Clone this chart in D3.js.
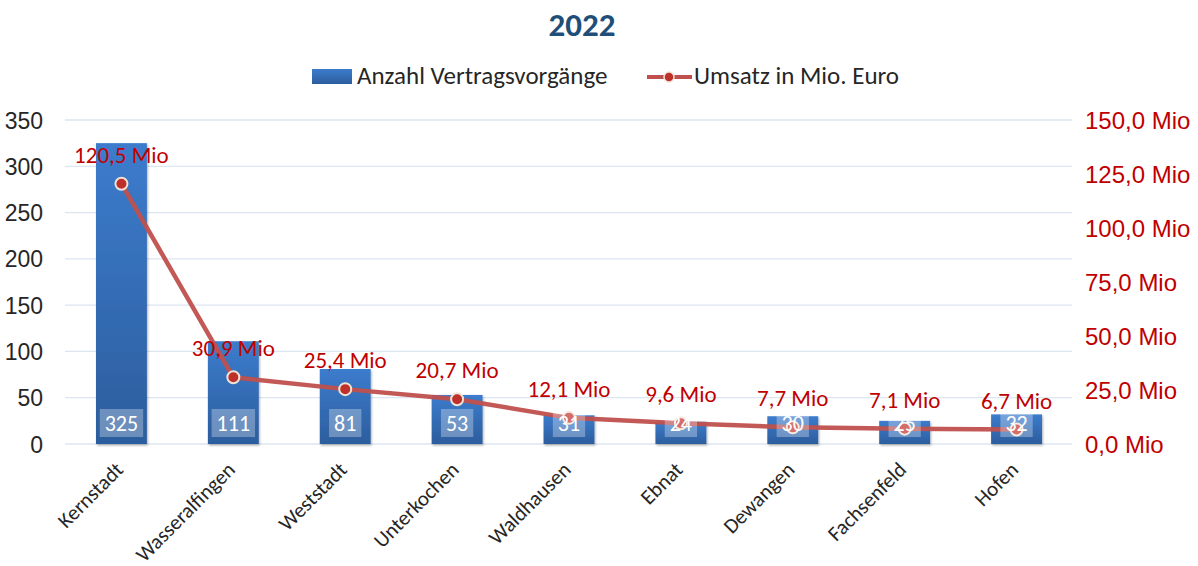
<!DOCTYPE html>
<meta charset="utf-8">
<style>
body { margin: 0; background: #fff; }
svg { font-family: Carlito, Calibri, Lato, "Open Sans", sans-serif; }
.grid line { stroke: #dce6f2; stroke-width: 1.3; }
.axis text { font-size: 23px; fill: #262626; }
.raxis text { font-size: 24px; fill: #c00000; }
</style>
<body>
<svg width="1198" height="566"></svg>
<script src="https://cdn.jsdelivr.net/npm/d3@7"></script>
<script>

var districts = ["Kernstadt", "Wasseralfingen", "Weststadt", "Unterkochen", "Waldhausen", "Ebnat", "Dewangen", "Fachsenfeld", "Hofen"];
var contracts = [325, 111, 81, 53, 31, 24, 30, 25, 32];
var turnover = [120.5, 30.9, 25.4, 20.7, 12.1, 9.6, 7.7, 7.1, 6.7];
var leftTicks = [0, 50, 100, 150, 200, 250, 300, 350];
var rightTicks = [0, 25, 50, 75, 100, 125, 150];

var svg = d3.select("svg");
var fmt = function(v) { return v.toFixed(1).replace(".", ","); };

var x = d3.scaleBand().domain(districts).range([65.5, 1072.5]).paddingInner(0.545).paddingOuter(0.2725);
var y = d3.scaleLinear().domain([0, 350]).range([444, 120]);
var y2 = d3.scaleLinear().domain([0, 150]).range([444, 120]);

var defs = svg.append("defs");
var grad = defs.append("linearGradient").attr("id", "barGrad").attr("x1", 0).attr("y1", 0).attr("x2", 0).attr("y2", 1);
grad.append("stop").attr("offset", "0%").attr("stop-color", "#3c7ccd");
grad.append("stop").attr("offset", "100%").attr("stop-color", "#2c5d9d");
var f = defs.append("filter").attr("id", "shadow").attr("x", "-20%").attr("y", "-20%").attr("width", "140%").attr("height", "140%");
f.append("feDropShadow").attr("dx", 1).attr("dy", 1.5).attr("stdDeviation", 1.2).attr("flood-color", "#000").attr("flood-opacity", 0.3);

// title
svg.append("text").attr("x", 582).attr("y", 36).attr("text-anchor", "middle")
  .attr("font-size", 33).attr("font-weight", "bold").attr("fill", "#1f4e79").text("2022");

// legend
var lg = svg.append("g");
lg.append("rect").attr("x", 312).attr("y", 69).attr("width", 40).attr("height", 15).attr("fill", "url(#barGrad)");
lg.append("text").attr("x", 357).attr("y", 84).attr("font-size", 25).attr("fill", "#262626").text("Anzahl Vertragsvorgänge");
lg.append("line").attr("x1", 647).attr("x2", 692).attr("y1", 77).attr("y2", 77).attr("stroke", "#c0504d").attr("stroke-width", 4);
lg.append("circle").attr("cx", 669).attr("cy", 77).attr("r", 5).attr("fill", "#c0302b").attr("stroke", "#efe3d6").attr("stroke-width", 1.5);
lg.append("text").attr("x", 694).attr("y", 84).attr("font-size", 25).attr("fill", "#262626").text("Umsatz in Mio. Euro");

// grid
svg.append("g").attr("class", "grid").selectAll("line").data(leftTicks).join("line")
  .attr("x1", 65).attr("x2", 1072).attr("y1", d => y(d)).attr("y2", d => y(d));

// left axis
var la = svg.append("g").attr("class", "axis").attr("transform", "translate(43,0)")
  .call(d3.axisLeft(y).tickValues(leftTicks).tickSize(0).tickPadding(0));
la.select(".domain").remove();
la.selectAll("text").attr("dy", "0.35em");

// right axis
var ra = svg.append("g").attr("class", "raxis").attr("transform", "translate(1085,0)")
  .call(d3.axisRight(y2).tickValues(rightTicks).tickSize(0).tickPadding(0).tickFormat(d => fmt(d) + " Mio"));
ra.select(".domain").remove();
ra.selectAll("text").attr("dy", "0.35em");

// bars
svg.append("g").selectAll("rect").data(districts).join("rect")
  .attr("x", d => x(d)).attr("width", x.bandwidth())
  .attr("y", (d, i) => y(contracts[i])).attr("height", (d, i) => y(0) - y(contracts[i]))
  .attr("fill", "url(#barGrad)").attr("filter", "url(#shadow)");

// x labels
svg.append("g").selectAll("text").data(districts).join("text")
  .attr("transform", d => "translate(" + (x(d) + x.bandwidth() / 2 + 3) + ",471) rotate(-45)")
  .attr("text-anchor", "end")
  .attr("font-size", 21).attr("fill", "#262626").text(d => d);

// line
var line = d3.line().x((d, i) => x(districts[i]) + x.bandwidth() / 2).y(d => y2(d));
svg.append("path").datum(turnover).attr("d", line)
  .attr("fill", "none").attr("stroke", "#c0504d").attr("stroke-width", 4.5).attr("stroke-linejoin", "round").attr("opacity", 0.95);
svg.append("g").selectAll("circle").data(turnover).join("circle")
  .attr("cx", (d, i) => x(districts[i]) + x.bandwidth() / 2).attr("cy", d => y2(d)).attr("r", 6)
  .attr("fill", "#c0302b").attr("stroke", "#efe3d6").attr("stroke-width", 2);

// bar value boxes
var bl = svg.append("g").selectAll("g").data(districts).join("g");
bl.append("text")
  .attr("x", d => x(d) + x.bandwidth() / 2).attr("y", 431)
  .attr("text-anchor", "middle").attr("font-size", 22).attr("fill", "#fff")
  .text((d, i) => contracts[i]);
bl.each(function() {
  var t = d3.select(this).select("text");
  var w = t.node().getComputedTextLength();
  var cx = +t.attr("x");
  d3.select(this).insert("rect", "text")
    .attr("x", cx - w / 2 - 5).attr("width", w + 10)
    .attr("y", 409).attr("height", 28)
    .attr("fill", "#fff").attr("fill-opacity", 0.3);
});

// line value labels
svg.append("g").selectAll("text").data(turnover).join("text")
  .attr("x", (d, i) => x(districts[i]) + x.bandwidth() / 2).attr("y", d => y2(d) - 21)
  .attr("text-anchor", "middle").attr("font-size", 23).attr("fill", "#c00000")
  .text(d => fmt(d) + " Mio");

</script>
</body>
